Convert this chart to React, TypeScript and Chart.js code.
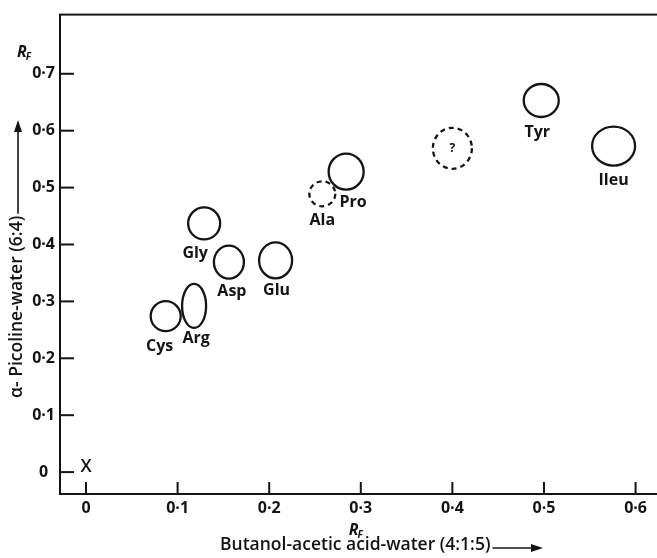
import React, { useEffect, useRef } from "react";
import { Chart, registerables } from "chart.js";

Chart.register(...registerables);

// ---- Data (Rf values) ----
const AMINO_ACIDS = ["Cys", "Arg", "Gly", "Asp", "Glu", "Ala", "Pro", "?", "Tyr", "Ileu"];
const RF_BUTANOL = [0.087, 0.118, 0.129, 0.156, 0.207, 0.258, 0.284, 0.4, 0.497, 0.576];
const RF_PICOLINE = [0.274, 0.292, 0.437, 0.369, 0.372, 0.489, 0.528, 0.569, 0.653, 0.573];
const TENTATIVE = [false, false, false, false, false, true, false, true, false, false];
const ORIGIN_X = [0];
const ORIGIN_Y = [0];
const X_TICKS = [0, 0.1, 0.2, 0.3, 0.4, 0.5, 0.6];
const Y_TICKS = [0, 0.1, 0.2, 0.3, 0.4, 0.5, 0.6, 0.7];
const X_TITLE = "Butanol-acetic acid-water (4:1:5)";
const Y_TITLE = "\u03b1- Picoline-water (6:4)";

// ---- Styles (spot outline sizes and label offsets, in pixels) ----
const SPOT_STYLE: Record<string, { rx: number; ry: number; dx: number; dy: number }> = {
  Cys: { rx: 15, ry: 15, dx: -6, dy: 30 },
  Arg: { rx: 12, ry: 22, dx: 2, dy: 32 },
  Gly: { rx: 16, ry: 16, dx: -9, dy: 30 },
  Asp: { rx: 15, ry: 16.5, dx: 3, dy: 29 },
  Glu: { rx: 16.5, ry: 18, dx: 1, dy: 30 },
  Ala: { rx: 13, ry: 12.5, dx: 0, dy: 27 },
  Pro: { rx: 17.5, ry: 18, dx: 7, dy: 31 },
  "?": { rx: 19.5, ry: 20.5, dx: 0, dy: 0 },
  Tyr: { rx: 17.5, ry: 16.5, dx: -4, dy: 32 },
  Ileu: { rx: 21.5, ry: 19.5, dx: 0, dy: 34 },
};
const INK = "#141414";
const FONT = "'Open Sans', Lato, sans-serif";

const fmt = (v: number) => (v === 0 ? "0" : v.toFixed(1).replace(".", "\u00b7"));

const drawRf = (ctx: CanvasRenderingContext2D, x: number, y: number) => {
  ctx.textAlign = "left";
  ctx.textBaseline = "alphabetic";
  ctx.font = `italic 700 16px ${FONT}`;
  ctx.fillText("R", x, y);
  const w = ctx.measureText("R").width;
  ctx.font = `italic 700 10px ${FONT}`;
  ctx.fillText("F", x + w - 1, y + 3);
};

const decorPlugin = {
  id: "decor",
  afterDatasetsDraw(chart: any) {
    const ctx: CanvasRenderingContext2D = chart.ctx;
    const xs = chart.scales.x;
    const ys = chart.scales.y;
    const area = chart.chartArea;
    ctx.save();
    ctx.strokeStyle = INK;
    ctx.fillStyle = INK;
    ctx.setLineDash([]);

    // top frame line
    ctx.fillRect(area.left - 1, area.top - 1, area.right - area.left + 1, 2);

    // inward tick marks
    X_TICKS.forEach((v) => {
      const px = xs.getPixelForValue(v);
      ctx.fillRect(px - 1, area.bottom - 12, 2, 12);
    });
    Y_TICKS.forEach((v) => {
      const py = ys.getPixelForValue(v);
      ctx.fillRect(area.left, py - 1, 14, 2);
    });

    // spots
    const meta = chart.getDatasetMeta(0);
    meta.data.forEach((el: any, i: number) => {
      const name = AMINO_ACIDS[i];
      const s = SPOT_STYLE[name];
      ctx.beginPath();
      ctx.lineWidth = 2.3;
      ctx.setLineDash(TENTATIVE[i] ? [5, 4] : []);
      ctx.ellipse(el.x, el.y, s.rx, s.ry, 0, 0, Math.PI * 2);
      ctx.stroke();
      ctx.setLineDash([]);
      ctx.textAlign = "center";
      ctx.textBaseline = "middle";
      ctx.font = name === "?" ? `700 12px ${FONT}` : `700 16px ${FONT}`;
      ctx.fillText(name, el.x + s.dx, el.y + s.dy);
    });

    // origin marker
    const om = chart.getDatasetMeta(1);
    om.data.forEach((el: any) => {
      ctx.textAlign = "center";
      ctx.textBaseline = "middle";
      ctx.font = `600 18px ${FONT}`;
      ctx.fillText("X", el.x, el.y - 5);
    });

    // R_F labels
    drawRf(ctx, 17, 57);
    drawRf(ctx, xs.getPixelForValue(0.3) - 12, 535);

    // x title + arrow
    ctx.font = `600 17.5px ${FONT}`;
    ctx.textAlign = "left";
    ctx.textBaseline = "middle";
    const tx = 220;
    const ty = 545;
    ctx.fillText(X_TITLE, tx, ty);
    const tw = ctx.measureText(X_TITLE).width;
    const ax0 = tx + tw + 2;
    const ax1 = 543;
    ctx.lineWidth = 1.6;
    ctx.beginPath();
    ctx.moveTo(ax0, ty + 3);
    ctx.lineTo(ax1 - 6, ty + 3);
    ctx.stroke();
    ctx.beginPath();
    ctx.moveTo(ax1, ty + 3);
    ctx.lineTo(ax1 - 12, ty - 1);
    ctx.lineTo(ax1 - 12, ty + 7);
    ctx.closePath();
    ctx.fill();

    // y title + arrow (rotated)
    ctx.save();
    ctx.translate(17, 398);
    ctx.rotate(-Math.PI / 2);
    ctx.font = `600 17.5px ${FONT}`;
    ctx.textAlign = "left";
    ctx.textBaseline = "middle";
    ctx.fillText(Y_TITLE, 0, 0);
    const yw = ctx.measureText(Y_TITLE).width;
    const ya0 = yw + 2;
    const ya1 = 398 - 120;
    ctx.lineWidth = 1.6;
    ctx.beginPath();
    ctx.moveTo(ya0, 1);
    ctx.lineTo(ya1 - 6, 1);
    ctx.stroke();
    ctx.beginPath();
    ctx.moveTo(ya1, 1);
    ctx.lineTo(ya1 - 12, -3);
    ctx.lineTo(ya1 - 12, 5);
    ctx.closePath();
    ctx.fill();
    ctx.restore();

    ctx.restore();
  },
};

export default function App() {
  const ref = useRef<HTMLCanvasElement | null>(null);

  useEffect(() => {
    document.body.style.margin = "0";
    const canvas = ref.current;
    if (!canvas) return;
    const chart = new Chart(canvas, {
      type: "scatter",
      data: {
        datasets: [
          {
            label: "Amino acids",
            data: RF_BUTANOL.map((x, i) => ({ x, y: RF_PICOLINE[i] })),
            pointRadius: 0,
            pointHoverRadius: 0,
          },
          {
            label: "Origin",
            data: ORIGIN_X.map((x, i) => ({ x, y: ORIGIN_Y[i] })),
            pointRadius: 0,
            pointHoverRadius: 0,
          },
        ],
      },
      options: {
        animation: false,
        responsive: false,
        events: [],
        layout: { padding: { top: 12, right: 0, bottom: 0, left: 0 } },
        plugins: {
          legend: { display: false },
          tooltip: { enabled: false },
        },
        scales: {
          x: {
            type: "linear",
            min: -0.0284,
            max: 0.6234,
            afterBuildTicks: (s: any) => {
              s.ticks = X_TICKS.map((value) => ({ value }));
            },
            afterFit: (s: any) => {
              s.height = 64;
            },
            grid: { display: true, drawOnChartArea: false, drawTicks: false },
            border: { display: true, color: INK, width: 2 },
            ticks: {
              color: INK,
              padding: 5,
              maxRotation: 0,
              autoSkip: false,
              font: { family: FONT, size: 16, weight: "700" },
              callback: (v: any) => fmt(Number(v)),
            },
          },
          y: {
            type: "linear",
            min: -0.0385,
            max: 0.804,
            afterBuildTicks: (s: any) => {
              s.ticks = Y_TICKS.map((value) => ({ value }));
            },
            afterFit: (s: any) => {
              s.width = 60;
            },
            grid: { display: true, drawOnChartArea: false, drawTicks: false },
            border: { display: true, color: INK, width: 2 },
            ticks: {
              color: INK,
              padding: 5,
              crossAlign: "center",
              autoSkip: false,
              font: { family: FONT, size: 16, weight: "700" },
              callback: (v: any) => fmt(Number(v)),
            },
          },
        },
      },
      plugins: [decorPlugin],
    } as any);
    return () => chart.destroy();
  }, []);

  return (
    <div style={{ width: 657, height: 558, background: "#fff" }}>
      <canvas ref={ref} width={657} height={558} style={{ display: "block" }} />
    </div>
  );
}
